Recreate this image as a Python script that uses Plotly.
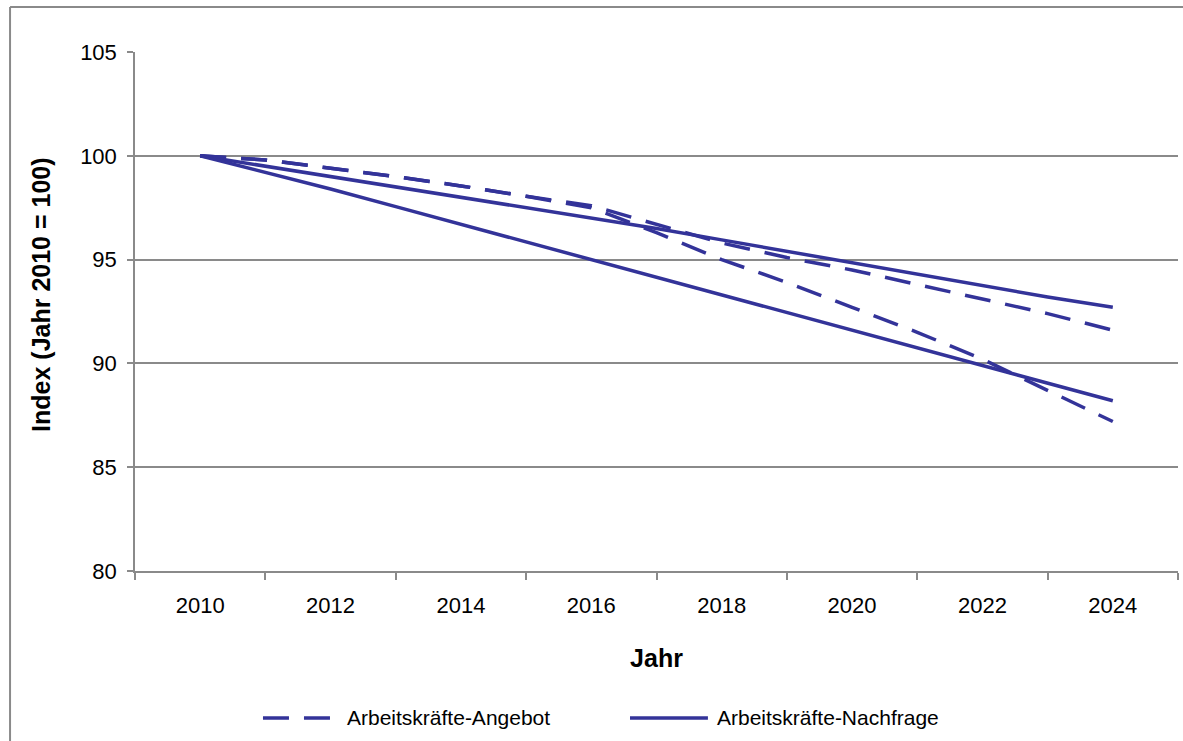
import plotly.graph_objects as go

years = list(range(2010, 2025))

# Arbeitskräfte-Angebot (two scenarios, dashed)
angebot_hoch = [100, 99.8, 99.4, 99.0, 98.55, 98.05, 97.6, 96.7, 95.8, 95.1, 94.5, 93.8, 93.1, 92.4, 91.6]
angebot_tief = [100, 99.8, 99.4, 99.0, 98.55, 98.05, 97.5, 96.3, 95.0, 93.9, 92.7, 91.5, 90.2, 88.7, 87.2]

# Arbeitskräfte-Nachfrage (two scenarios, solid)
nachfrage_hoch = [100, 99.5, 99.0, 98.5, 98.0, 97.5, 97.0, 96.5, 95.95, 95.4, 94.85, 94.3, 93.75, 93.2, 92.7]
nachfrage_tief = [100, 99.2, 98.4, 97.55, 96.7, 95.85, 95.0, 94.15, 93.3, 92.45, 91.6, 90.75, 89.9, 89.05, 88.2]

x_labels = [2010, 2012, 2014, 2016, 2018, 2020, 2022, 2024]
y_ticks = [80, 85, 90, 95, 100, 105]

blue = "#333399"
grey = "#8a8a8a"
font = "Liberation Sans, Arial, sans-serif"
dash = "26px,15px"

fig = go.Figure()

series = [
    (angebot_hoch, "Arbeitskräfte-Angebot", dash),
    (angebot_tief, "Arbeitskräfte-Angebot", dash),
    (nachfrage_hoch, "Arbeitskräfte-Nachfrage", "solid"),
    (nachfrage_tief, "Arbeitskräfte-Nachfrage", "solid"),
]
for values, name, style in series:
    fig.add_trace(go.Scatter(
        x=years, y=values, mode="lines", name=name,
        showlegend=False,
        line=dict(color=blue, width=3.5, dash=style),
    ))

# legend drawn by hand, Excel style (long line samples)
legend_y = -0.2832
shapes = [
    # outer chart frame (only top and left edges are visible)
    dict(type="line", xref="paper", yref="paper",
         x0=-0.1198, x1=1.08, y0=1.0867, y1=1.0867,
         line=dict(color=grey, width=2), layer="below"),
    dict(type="line", xref="paper", yref="paper",
         x0=-0.1198, x1=-0.1198, y0=-0.45, y1=1.0867,
         line=dict(color=grey, width=2), layer="below"),
    dict(type="line", xref="paper", yref="paper",
         x0=0.1227, x1=0.1870, y0=legend_y, y1=legend_y,
         line=dict(color=blue, width=3.5, dash=dash)),
    dict(type="line", xref="paper", yref="paper",
         x0=0.4746, x1=0.5493, y0=legend_y, y1=legend_y,
         line=dict(color=blue, width=3.5)),
]
annotations = [
    dict(text="Arbeitskräfte-Angebot", xref="paper", yref="paper",
         x=0.2018, y=legend_y, xanchor="left", yanchor="middle",
         showarrow=False, font=dict(size=21)),
    dict(text="Arbeitskräfte-Nachfrage", xref="paper", yref="paper",
         x=0.5565, y=legend_y, xanchor="left", yanchor="middle",
         showarrow=False, font=dict(size=21)),
    dict(text="<b>Index (Jahr 2010 = 100)</b>", xref="paper", yref="paper",
         x=-0.0901, y=0.532, xanchor="center", yanchor="middle",
         textangle=-90, showarrow=False, font=dict(size=25)),
]

fig.update_layout(
    width=1183, height=741,
    margin=dict(l=135, r=5, t=52, b=170),
    paper_bgcolor="white", plot_bgcolor="white",
    font=dict(family=font, size=22, color="black"),
    showlegend=False,
    xaxis=dict(
        range=[2009, 2025], tickmode="array", tickvals=x_labels,
        ticks="", ticklabelstandoff=14,
        showgrid=False, zeroline=False,
        showline=True, linecolor=grey, linewidth=1.5,
        minor=dict(ticks="outside", tickvals=list(range(2009, 2026, 2)),
                   ticklen=7, tickcolor=grey, tickwidth=1.5, showgrid=False),
        title=dict(text="<b>Jahr</b>", font=dict(size=25), standoff=32),
    ),
    yaxis=dict(
        range=[80, 105], tickmode="array", tickvals=y_ticks,
        ticks="outside", ticklen=6, tickcolor=grey, tickwidth=1.5,
        ticklabelstandoff=6,
        showgrid=True, gridcolor=grey, gridwidth=1.5, zeroline=False,
        showline=True, linecolor=grey, linewidth=1.5,
    ),
    shapes=shapes,
    annotations=annotations,
)

# drop the default page margin so the figure fills the window exactly
page_js = (
    "document.body.style.margin='0';"
    "document.body.style.overflow='hidden';"
    "document.documentElement.style.overflow='hidden';"
)
fig.write_html("out.html", config={"displayModeBar": False}, post_script=page_js)
